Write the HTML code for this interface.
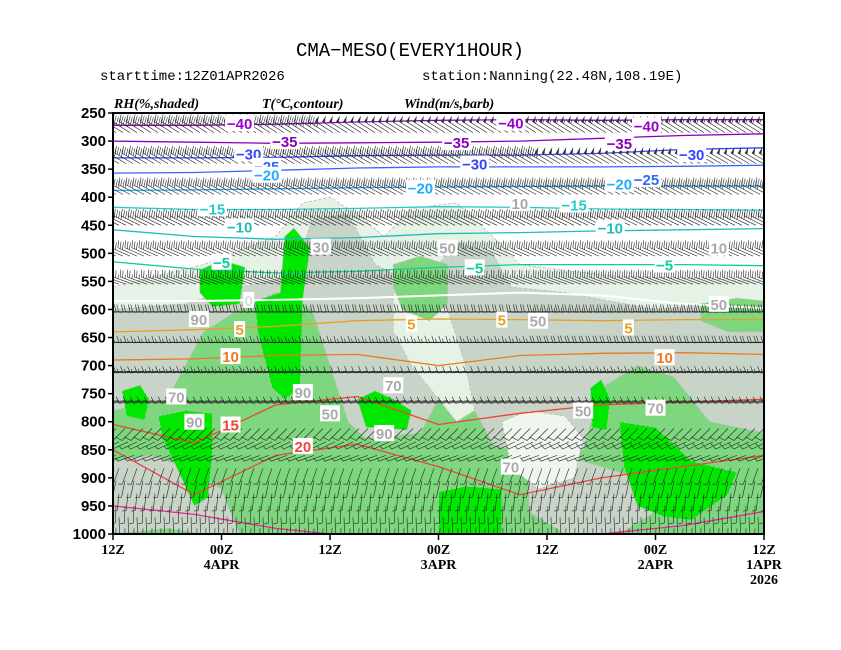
<!DOCTYPE html>
<html><head><meta charset="utf-8"><style>
body{margin:0;background:#fff;}
svg{display:block;font-family:"Liberation Sans",sans-serif;}
.t{font-family:"Liberation Mono",monospace;}
</style></head><body>
<svg id="c" width="841" height="650" viewBox="0 0 841 650">
<rect width="841" height="650" fill="#fff"/>
<text x="410" y="56" text-anchor="middle" class="t" font-size="19">CMA−MESO(EVERY1HOUR)</text>
<text x="100" y="80" class="t" font-size="14">starttime:12Z01APR2026</text>
<text x="422" y="80" class="t" font-size="14">station:Nanning(22.48N,108.19E)</text>
<text x="114" y="108" font-size="14" font-weight="bold" font-style="italic" font-family="Liberation Serif,serif">RH(%,shaded)</text>
<text x="262" y="108" font-size="14" font-weight="bold" font-style="italic" font-family="Liberation Serif,serif">T(°C,contour)</text>
<text x="404" y="108" font-size="14" font-weight="bold" font-style="italic" font-family="Liberation Serif,serif">Wind(m/s,barb)</text>
<defs><clipPath id="pc"><rect x="113" y="113" width="651" height="421"/></clipPath></defs>
<g id="plot" clip-path="url(#pc)"></g>
<g id="labels"></g>
<rect x="113" y="113" width="651" height="421" fill="none" stroke="#000" stroke-width="2"/>
<g id="axes"></g>
</svg>
<script>
const NS='http://www.w3.org/2000/svg';
const pLevels=[250,300,350,400,450,500,550,600,650,700,750,800,850,900,950,1000];
const xTickHours=[0,12,24,36,48,60,72];
const xTickTop=['12Z','00Z','12Z','00Z','12Z','00Z','12Z'];
const xTickMid=['','4APR','','3APR','','2APR','1APR'];
const xTickBot=['','','','','','','2026'];
const H=[0,9,18,27,36,45,54,63,72];
const isoTemps=[-40,-35,-30,-25,-20,-15,-10,-5,0,5,10,15,20,25];
const iso_m40=[272,272,270,266,263,262,263,262,262];
const iso_m35=[300,302,304,303,302,300,295,290,287];
const iso_m30=[330,330,329,326,325,325,322,315,312];
const iso_m25=[357,356,352,348,346,346,346,345,343];
const iso_m20=[388,387,385,383,382,381,380,380,380];
const iso_m15=[418,422,422,420,417,418,421,422,423];
const iso_m10=[458,470,475,472,465,463,460,458,456];
const iso_m5=[515,528,535,532,525,520,520,520,522];
const iso_0=[585,585,583,580,575,570,575,590,598];
const iso_5=[640,636,630,620,617,618,620,618,618];
const iso_10=[690,688,682,680,700,682,678,677,680];
const iso_15=[805,838,770,755,805,785,770,765,760];
const iso_20=[850,930,860,840,880,930,900,880,860];
const iso_25=[950,965,990,1005,1005,1005,1000,985,960];
const isoColors=['#9900cc','#8800bb','#3344ff','#3366ff','#22aaff','#22cccc','#22bbbb','#11cc99','#ffffff','#e8a020','#ee7722','#ee4433','#ee4444','#ee2299'];
const isoData=[iso_m40,iso_m35,iso_m30,iso_m25,iso_m20,iso_m15,iso_m10,iso_m5,iso_0,iso_5,iso_10,iso_15,iso_20,iso_25];
const tLabH=[14,19,15,17,17,11,14,12,15,14,13,13,21,44,59,38,56,64,40,56,34,59,51,55,40,61,43,33,57,61];
const tLabP=[268,300,322,344,360,420,452,515,583,635,683,805,843,267,272,302,303,323,340,376,383,368,413,454,525,520,618,625,632,685];
const tLabT=['-40','-35','-30','-25','-20','-15','-10','-5','0','5','10','15','20','-40','-40','-35','-35','-30','-30','-20','-20','-25','-15','-10','-5','-5','5','5','5','10'];
const tLabC=[0,1,2,3,4,5,6,7,8,9,10,11,12,0,0,1,1,2,2,4,4,3,5,6,7,7,9,9,9,10];
const rhLightH=[0,10,18,21,24,27,30,33,38,42,45,55,65,72,72,0];
const rhLightP=[560,520,470,410,400,430,470,420,410,470,520,540,545,550,1000,1000];
const rhGrayH=[0,8,14,20,22,26,29,34,38,42,44,50,60,66,72,72,0];
const rhGrayP=[600,590,560,540,440,430,520,560,480,500,560,570,600,590,610,1000,1000];
const rhLight2H=[31,34,37,39,40,38,36,33,31];
const rhLight2P=[570,560,600,700,780,800,760,700,640];
const rhLight3H=[43,46,50,52,51,47,44];
const rhLight3P=[800,780,790,830,900,920,880];
const rhMedH=[0,6,10,14,18,22,24,26,28,34,36,40,42,48,52,54,58,62,66,72,72,45,30,20,10,0];
const rhMedP=[780,760,640,600,570,600,700,800,830,820,760,780,840,870,850,740,700,720,800,820,1000,1000,1000,1000,1000,1000];
const rhGrayLowH=[0,4,8,12,14,10,6,0];
const rhGrayLowP=[870,860,880,920,1000,1000,990,1000];
const rhGrayLow2H=[46,52,58,60,56,50,46];
const rhGrayLow2P=[880,870,900,960,1000,1000,960];
const rhMedUpH=[31,34,37,37,35,32,31];
const rhMedUpP=[520,505,520,590,620,600,560];
const rhMedRH=[65,69,72,72,68,65];
const rhMedRP=[590,580,585,640,640,620];
const bright1H=[9.6,12,14.6,14,11,9.6];const bright1P=[530,512,525,590,595,570];
const bright2H=[15.7,18.5,19,20,21.8,21,20.7,19,17.6,16];const bright2P=[585,570,470,455,490,580,740,760,740,640];
const bright3H=[5,8,11,11,10.5,9,7,5.5];const bright3P=[790,780,785,860,935,950,880,830];
const bright4H=[27,29,31,33,32.5,30,28];const bright4P=[760,745,760,780,815,810,810];
const bright5H=[36,39,43,43,36];const bright5P=[925,915,920,1000,1000];
const bright6H=[52.8,54,55,54.6,53];const bright6P=[740,725,760,815,810];
const bright7H=[56,60,64,69,68,64,61,58,56.5];const bright7P=[800,810,870,890,930,975,970,950,880];
const bright8H=[1,3,4,3.5,1.5];const bright8P=[745,735,760,797,790];
const windLevels=[285,340,395,450,505,555,605,658,710,762,812,836,860,883,905,928,950,970,990];
const windDir=[302,300,298,296,294,290,272,268,265,262,225,245,250,200,192,186,182,178,182];
const windSpd0=[45,42,40,35,30,25,20,18,15,12,10,9,8,7,6,5,5,4,4];
const windSpd1=[50,46,42,38,32,28,22,18,14,12,10,9,8,6,6,5,5,5,4];
const windSpd2=[55,50,45,40,34,30,25,20,16,14,12,10,8,7,6,6,5,5,4];

const X=h=>113+h*651/72;
const Y=p=>113+(p-250)/750*421;
const plot=document.getElementById('plot');
function mk(tag,attrs,parent){const e=document.createElementNS(NS,tag);for(const k in attrs)e.setAttribute(k,attrs[k]);parent.appendChild(e);return e;}
function poly(hs,ps,fill,name){
 const e=mk('polygon',{points:hs.map((h,i)=>X(h)+','+Y(ps[i])).join(' '),fill:fill,stroke:'#bbb','stroke-dasharray':'3,2','stroke-width':'0.8'},plot);
 
 
}
poly(rhLightH,rhLightP,'#e6f2e6','rh-shade-30');
poly(rhGrayH,rhGrayP,'#c9d4c9','rh-shade-50');
poly(rhMedH,rhMedP,'#7ed67e','rh-shade-80');
poly(rhGrayLowH,rhGrayLowP,'#c9d4c9','rh-shade-50-low');
poly(rhGrayLow2H,rhGrayLow2P,'#c9d4c9','rh-shade-50-low2');
poly(rhLight2H,rhLight2P,'#e6f2e6','rh-shade-30-mid');
poly(rhLight3H,rhLight3P,'#eef6ee','rh-shade-30-low');
poly(rhMedUpH,rhMedUpP,'#7ed67e','rh-shade-80-upper');
poly(rhMedRH,rhMedRP,'#7ed67e','rh-shade-80-right');
[[bright1H,bright1P],[bright2H,bright2P],[bright3H,bright3P],[bright4H,bright4P],[bright5H,bright5P],[bright6H,bright6P],[bright7H,bright7P],[bright8H,bright8P]].forEach((b,i)=>{
 poly(b[0],b[1],'#00e800','rh-shade-90-'+(i+1));
});
isoData.forEach((arr,i)=>{
 let d='';arr.forEach((p,j)=>{d+=(j?'L':'M')+X(H[j]).toFixed(1)+','+Y(p).toFixed(1);});
 const e=mk('path',{d:d,fill:'none',stroke:isoColors[i],'stroke-width':isoTemps[i]===0?2:1.3},plot);
 
 
});
windLevels.forEach((lev,r)=>{
 const y=Y(lev);const dd=windDir[r]*Math.PI/180;
 const sx=Math.sin(dd),sy=-Math.cos(dd);const px=-sy,py=sx;
 const L=r<10?21:17;
 const spds=[windSpd0[r],windSpd1[r],windSpd2[r]];
 let d='',tri='';
 const step=r<10?7:9;
 for(let x=116+(r%2)*3;x<790;x+=step){
  const seg=Math.min(2,Math.floor((x-113)/217));
  let s=spds[seg];
  const tx=x+sx*L,ty=y+sy*L;
  d+='M'+x.toFixed(1)+','+y.toFixed(1)+'L'+tx.toFixed(1)+','+ty.toFixed(1);
  let pos=0;
  while(s>=50){const ax=tx-sx*pos,ay=ty-sy*pos;tri+='M'+ax.toFixed(1)+','+ay.toFixed(1)+'L'+(ax+px*7).toFixed(1)+','+(ay+py*7).toFixed(1)+'L'+(ax-sx*3).toFixed(1)+','+(ay-sy*3).toFixed(1)+'Z';pos+=4;s-=50;}
  while(s>=10){const ax=tx-sx*pos,ay=ty-sy*pos;d+='M'+ax.toFixed(1)+','+ay.toFixed(1)+'L'+(ax+px*7+sx*2).toFixed(1)+','+(ay+py*7+sy*2).toFixed(1);pos+=2.5;s-=10;}
  if(s>=5){const ax=tx-sx*pos,ay=ty-sy*pos;d+='M'+ax.toFixed(1)+','+ay.toFixed(1)+'L'+(ax+px*4+sx*1).toFixed(1)+','+(ay+py*4+sy*1).toFixed(1);}
 }
 const e=mk('path',{d:d,fill:'none',stroke:'#222','stroke-width':'0.6'},plot);
 
 
 if(tri){const t=mk('path',{d:tri,fill:'#333',stroke:'none'},plot);
 
 }
});
const lg=document.getElementById('labels');
tLabT.forEach((t,i)=>{
 const x=X(tLabH[i]),y=Y(tLabP[i]);
 const r=mk('rect',{x:x-t.length*4.5-1,y:y-8,width:t.length*9+2,height:16,fill:'#fff'},lg);
 
 
 const e=mk('text',{x:x,y:y+6,'text-anchor':'middle','font-size':'15','font-weight':'bold',fill:isoColors[tLabC[i]]==='#ffffff'?'#ddd':isoColors[tLabC[i]]},lg);
 e.textContent=t.replace('-','−');
 
 
});
const rhLabH=[9.5,9,7,21,24,31,30,37,47,44,52,60,67,23,45,67];
const rhLabP=[617,800,755,747,785,735,820,490,620,880,780,775,590,488,410,490];
const rhLabT=['90','90','70','90','50','70','90','50','50','70','50','70','50','30','10','10'];
rhLabT.forEach((t,i)=>{
 const x=X(rhLabH[i]),y=Y(rhLabP[i]);
 const r=mk('rect',{x:x-10,y:y-8,width:20,height:16,fill:'#fff'},lg);
 
 
 const e=mk('text',{x:x,y:y+6,'text-anchor':'middle','font-size':'15','font-weight':'bold',fill:'#aaa'},lg);
 e.textContent=t;
 
 
});
const ax=document.getElementById('axes');
pLevels.forEach(p=>{
 const y=Y(p);
 const tk=mk('line',{x1:108,x2:113,y1:y,y2:y,stroke:'#000','stroke-width':'1.5'},ax);
 
 
 const e=mk('text',{x:106,y:y+5,'text-anchor':'end','font-size':'15','font-weight':'bold'},ax);
 e.textContent=p;
 
 
});
xTickHours.forEach((h,i)=>{
 const x=X(h);
 const tk=mk('line',{x1:x,x2:x,y1:534,y2:540,stroke:'#000','stroke-width':'1.5'},ax);
 
 
 [xTickTop[i],xTickMid[i],xTickBot[i]].forEach((s,k)=>{
  if(!s)return;
  const e=mk('text',{x:x,y:554+k*15,'text-anchor':'middle','font-size':'14','font-weight':'bold','font-family':'Liberation Serif,serif'},ax);
  e.textContent=s;
  
  
 });
});
</script>
</body></html>
